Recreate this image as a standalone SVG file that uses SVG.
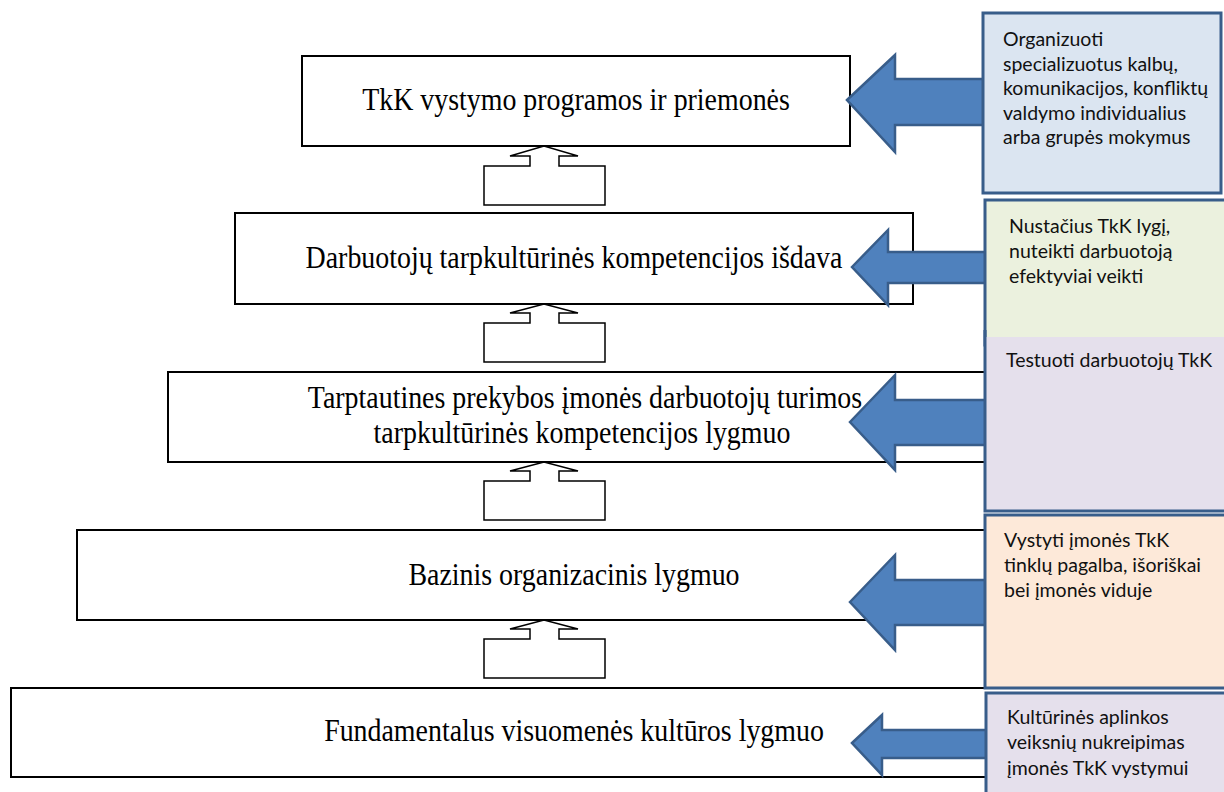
<svg xmlns="http://www.w3.org/2000/svg" width="1224" height="792" viewBox="0 0 1224 792">
  <style>
    .box { fill: #ffffff; stroke: #000000; stroke-width: 2; }
    .lbl { font-family: "Liberation Serif", "Times New Roman", serif; font-size: 31px; fill: #000000; text-anchor: middle; }
    .up { fill: #ffffff; stroke: #000000; stroke-width: 1.5; stroke-linejoin: miter; }
    .blue { fill: #4F81BD; stroke: #385D8A; stroke-width: 2.5; stroke-linejoin: miter; }
    .note { stroke: #385D8A; stroke-width: 3; }
    .ntxt { font-family: "Lato", "Open Sans", sans-serif; font-size: 19.5px; fill: #111111; }
  </style>

  <!-- level boxes (labels use a slightly condensed serif) -->
  <g id="level5">
    <rect class="box" x="11" y="688" width="1300" height="89"/>
    <text class="lbl" transform="translate(574,741) scale(0.9,1)">Fundamentalus visuomenės kultūros lygmuo</text>
  </g>
  <g id="level4">
    <rect class="box" x="77" y="530" width="1300" height="90"/>
    <text class="lbl" transform="translate(574,585) scale(0.9,1)">Bazinis organizacinis lygmuo</text>
  </g>
  <g id="level3">
    <rect class="box" x="168" y="372" width="1300" height="90"/>
    <text class="lbl" transform="translate(585,408) scale(0.9,1)">Tarptautines prekybos įmonės darbuotojų turimos</text>
    <text class="lbl" transform="translate(582,443) scale(0.9,1)">tarpkultūrinės kompetencijos lygmuo</text>
  </g>
  <g id="level2">
    <rect class="box" x="235" y="213" width="678" height="91"/>
    <text class="lbl" transform="translate(574,268) scale(0.9,1)">Darbuotojų tarpkultūrinės kompetencijos išdava</text>
  </g>
  <g id="level1">
    <rect class="box" x="302" y="56" width="548" height="90"/>
    <text class="lbl" transform="translate(576,110) scale(0.9,1)">TkK vystymo programos ir priemonės</text>
  </g>

  <!-- connectors: upward steps and side arrows -->
  <g id="connectors">
    <polygon class="up" points="484,205 484,166 530,166 530,156 510,156 544,146 578,156 559,156 559,166 605,166 605,205"/>
    <polygon class="up" points="484,362 484,323 530,323 530,313 510,313 544,304 578,313 559,313 559,323 605,323 605,362"/>
    <polygon class="up" points="484,520 484,481 530,481 530,471 510,471 544,462 578,471 559,471 559,481 605,481 605,520"/>
    <polygon class="up" points="484,678 484,639 530,639 530,629 510,629 544,620 578,629 559,629 559,639 605,639 605,678"/>

    <polygon class="blue" points="847,100 895,55 895,79 990,79 990,125 895,125 895,152"/>
    <polygon class="blue" points="852,267 888,230 888,252 990,252 990,283 888,283 888,305"/>
    <polygon class="blue" points="850,422 895,375 895,400 990,400 990,445 895,445 895,470"/>
    <polygon class="blue" points="850,602 895,555 895,580 990,580 990,625 895,625 895,650"/>
    <polygon class="blue" points="852,743 882,715 882,730 990,730 990,758 882,758 882,775"/>
  </g>

  <!-- side notes -->
  <g id="note1">
    <rect class="note" x="983" y="13" width="238" height="180" fill="#DBE5F1"/>
    <text class="ntxt" x="1003" y="46">Organizuoti</text>
    <text class="ntxt" x="1003" y="71">specializuotus kalbų,</text>
    <text class="ntxt" x="1003" y="95">komunikacijos, konfliktų</text>
    <text class="ntxt" x="1003" y="120">valdymo individualius</text>
    <text class="ntxt" x="1003" y="144">arba  grupės mokymus</text>
  </g>
  <g id="note2">
    <rect class="note" x="985" y="200" width="250" height="145" fill="#EBF1DE"/>
    <text class="ntxt" x="1009" y="233">Nustačius TkK lygį,</text>
    <text class="ntxt" x="1009" y="258">nuteikti  darbuotoją</text>
    <text class="ntxt" x="1009" y="283">efektyviai veikti</text>
  </g>
  <g id="note3">
    <rect x="985" y="337" width="250" height="174" fill="#E5E0EC"/>
    <path class="note" fill="none" d="M985,330 V511 H1230"/>
    <text class="ntxt" x="1006" y="367">Testuoti darbuotojų TkK</text>
  </g>
  <g id="note4">
    <rect class="note" x="985" y="515" width="250" height="173" fill="#FDE9D9"/>
    <text class="ntxt" x="1004" y="547">Vystyti įmonės TkK</text>
    <text class="ntxt" x="1004" y="572">tinklų pagalba, išoriškai</text>
    <text class="ntxt" x="1004" y="597">bei įmonės viduje</text>
  </g>
  <g id="note5">
    <rect class="note" x="986" y="693" width="250" height="110" fill="#E5E0EC"/>
    <text class="ntxt" x="1007" y="724">Kultūrinės aplinkos</text>
    <text class="ntxt" x="1007" y="749">veiksnių nukreipimas</text>
    <text class="ntxt" x="1007" y="775">įmonės TkK vystymui</text>
  </g>
</svg>
